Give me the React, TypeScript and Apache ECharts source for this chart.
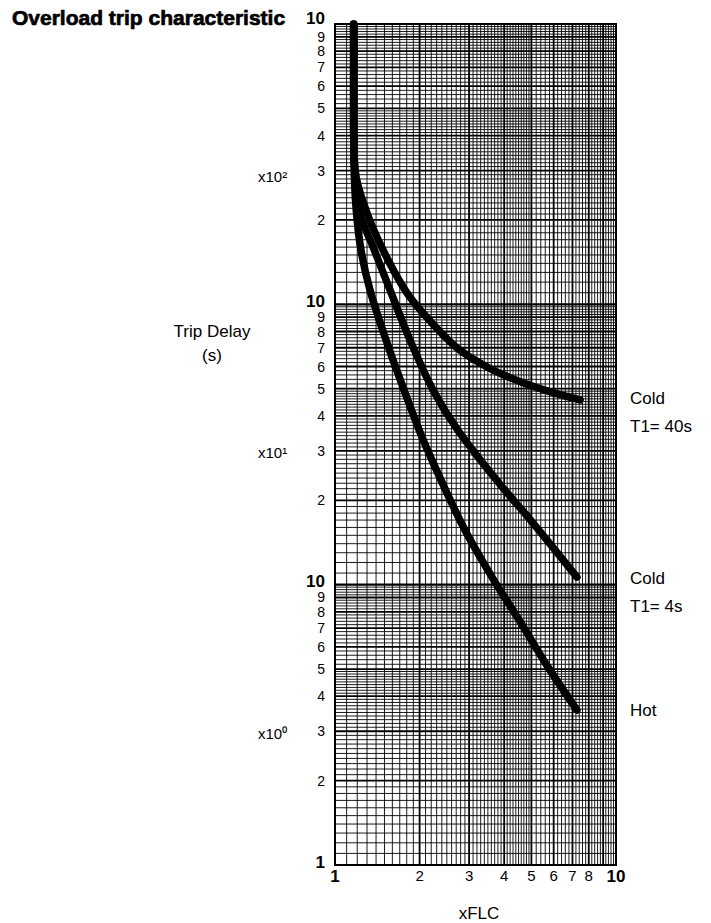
import React, { useEffect, useRef } from 'react';
import * as echarts from 'echarts';

const FONT = '"Liberation Sans", Arial, Helvetica, sans-serif';

// ---- curve data (xFLC, trip delay in s) ----
const cold40X = [1.165, 1.165, 1.18, 1.289, 1.482, 1.775, 2.057, 2.696, 3.532, 4.667, 6.02, 7.45];
const cold40Y = [1000, 450, 300, 216.8, 156.3, 112.5, 93.1, 70.4, 59.3, 52.5, 48.3, 45.6];
const cold4X = [1.165, 1.165, 1.175, 1.215, 1.38, 1.569, 1.849, 2.233, 2.735, 3.837, 4.966, 7.26];
const cold4Y = [1000, 450, 300, 216.8, 156.3, 112.5, 74.6, 49.5, 35.6, 23.0, 17.0, 10.64];
const hotX = [1.165, 1.165, 1.17, 1.19, 1.237, 1.332, 1.519, 1.76, 2.04, 2.384, 2.9, 3.62, 4.52, 5.73, 7.26];
const hotY = [1000, 450, 300, 216.8, 156.3, 112.5, 74.6, 49.5, 33.6, 23.6, 15.66, 10.64, 7.48, 5.08, 3.57];

// ---- axis tick labels ----
const xTickValues = [1, 2, 3, 4, 5, 6, 7, 8, 9, 10];
const yTickValues = [
  1, 2, 3, 4, 5, 6, 7, 8, 9,
  10, 20, 30, 40, 50, 60, 70, 80, 90,
  100, 200, 300, 400, 500, 600, 700, 800, 900, 1000,
];
const yDecades = [1, 10, 100];

// ---- log-paper ruling (mantissas within a decade) ----
const integerMantissas = [2, 3, 4, 5, 6, 7, 8, 9];
const fineMantissas: number[] = [];
for (let i = 11; i < 50; i++) if (i % 10 !== 0) fineMantissas.push(i / 10);
for (let i = 52; i < 100; i += 2) if (i % 10 !== 0) fineMantissas.push(i / 10);

const X_MIN = 1, X_MAX = 10, Y_MIN = 1, Y_MAX = 1000;

export default function App() {
  const ref = useRef<HTMLDivElement>(null);
  useEffect(() => {
    document.body.style.margin = '0';
    const chart = echarts.init(ref.current!, null, { renderer: 'svg' });
    const zip = (xs: number[], ys: number[]) => xs.map((x, i) => [x, ys[i]]);

    const vData: number[][] = [];
    fineMantissas.forEach((m) => vData.push([m, Y_MIN, 0.9]));
    integerMantissas.forEach((m) => vData.push([m, Y_MIN, 1.8]));

    const hData: number[][] = [];
    yDecades.forEach((d) => {
      fineMantissas.forEach((m) => hData.push([X_MIN, m * d, 0.9]));
      integerMantissas.forEach((m) => hData.push([X_MIN, m * d, 1.8]));
      if (d > 1) hData.push([X_MIN, d, 2.4]);
    });

    const lineSeries = (name: string, xs: number[], ys: number[]) => ({
      name,
      type: 'line',
      data: zip(xs, ys),
      smooth: 0.35,
      symbol: 'none',
      z: 5,
      silent: true,
      lineStyle: { color: '#000', width: 7.5, cap: 'round', join: 'round' },
    });

    const txt = (text: string, x: number, y: number, extra: any = {}) => ({
      type: 'text',
      x,
      y,
      silent: true,
      style: {
        text,
        fontFamily: FONT,
        fontSize: 17,
        fill: '#000',
        verticalAlign: 'middle',
        align: 'left',
        ...extra,
      },
    });

    const yLabelFormatter = (v: number) => {
      const e = Math.floor(Math.log10(v) + 1e-9);
      const m = Math.round(v / Math.pow(10, e));
      if (m === 1) return v < 1.5 ? '{b|1}\n{sp| }' : '{b|10}\n{sp| }';
      return String(m);
    };
    const yRich = {
      b: { fontWeight: 'bold', fontSize: 17, lineHeight: 8, fontFamily: FONT, color: '#000' },
      sp: { fontSize: 2, lineHeight: 6 },
      sp2: { fontSize: 2, lineHeight: 12 },
    };
    const yAxisBase = {
      type: 'log',
      logBase: 10,
      min: Y_MIN,
      max: Y_MAX,
      position: 'left',
      axisTick: { show: false },
      splitLine: { show: false },
      minorTick: { show: false },
      minorSplitLine: { show: false },
    };

    chart.setOption({
      animation: false,
      backgroundColor: '#fff',
      grid: {
        left: 335,
        top: 24,
        right: 95,
        bottom: 58,
        show: true,
        borderColor: '#000',
        borderWidth: 2,
        backgroundColor: 'transparent',
        containLabel: false,
        outerBoundsMode: 'none',
      },
      xAxis: {
        type: 'log',
        logBase: 10,
        min: X_MIN,
        max: X_MAX,
        axisLine: { show: true, lineStyle: { color: '#000', width: 2 } },
        axisTick: { show: false },
        splitLine: { show: false },
        minorTick: { show: false },
        minorSplitLine: { show: false },
        axisLabel: {
          customValues: xTickValues,
          interval: 0,
          hideOverlap: false,
          showMinLabel: true,
          showMaxLabel: true,
          margin: 3,
          fontSize: 15,
          fontFamily: FONT,
          color: '#000',
          formatter: (v: number) => {
            const r = Math.round(v);
            return r === 1 || r === 10 ? `{b|${r}}` : String(r);
          },
          rich: { b: { fontWeight: 'bold', fontSize: 17, fontFamily: FONT, color: '#000' } },
        },
      },
      yAxis: [
        {
          ...yAxisBase,
          axisLine: { show: true, lineStyle: { color: '#000', width: 2 } },
          axisLabel: {
            customValues: yTickValues.filter((v) => v < Y_MAX),
            interval: 0,
            hideOverlap: false,
            showMinLabel: true,
            showMaxLabel: true,
            margin: 10,
            fontSize: 14,
            lineHeight: 10,
            fontFamily: FONT,
            color: '#000',
            formatter: yLabelFormatter,
            rich: yRich,
          },
        },
        {
          ...yAxisBase,
          axisLine: { show: false },
          axisLabel: {
            customValues: yTickValues.filter((v) => v >= Y_MAX),
            interval: 0,
            showMinLabel: true,
            showMaxLabel: true,
            margin: 10,
            fontSize: 14,
            lineHeight: 10,
            fontFamily: FONT,
            color: '#000',
            formatter: () => '{b|10}\n{sp2| }',
            rich: yRich,
          },
        },
      ],
      graphic: [
        txt('Overload trip characteristic', 12, 17, {
          fontSize: 21,
          fontWeight: 'bold',
          stroke: '#000',
          lineWidth: 0.7,
        }),
        txt('Trip Delay', 212, 331, { align: 'center' }),
        txt('(s)', 212, 355, { align: 'center' }),
        txt('x10²', 258, 176, { fontSize: 15 }),
        txt('x10¹', 258, 452, { fontSize: 15 }),
        txt('x10⁰', 258, 733, { fontSize: 15 }),
        txt('xFLC', 479, 913, { align: 'center' }),
        txt('Cold', 630, 398),
        txt('T1= 40s', 630, 426),
        txt('Cold', 630, 578),
        txt('T1= 4s', 630, 606),
        txt('Hot', 630, 710),
      ],
      series: [
        {
          type: 'custom',
          name: 'vgrid',
          data: vData,
          encode: { x: 0, y: 1 },
          silent: true,
          z: 1,
          clip: false,
          renderItem: (params: any, api: any) => {
            const v = api.value(0);
            const w = api.value(2);
            const a = api.coord([v, Y_MIN]);
            const b = api.coord([v, Y_MAX]);
            return {
              type: 'line',
              shape: { x1: a[0], y1: a[1], x2: b[0], y2: b[1] },
              style: { stroke: '#000', lineWidth: w },
            };
          },
        },
        {
          type: 'custom',
          name: 'hgrid',
          data: hData,
          encode: { x: 0, y: 1 },
          silent: true,
          z: 1,
          clip: false,
          renderItem: (params: any, api: any) => {
            const v = api.value(1);
            const w = api.value(2);
            const a = api.coord([X_MIN, v]);
            const b = api.coord([X_MAX, v]);
            return {
              type: 'line',
              shape: { x1: a[0], y1: a[1], x2: b[0], y2: b[1] },
              style: { stroke: '#000', lineWidth: w },
            };
          },
        },
        lineSeries('Cold T1=40s', cold40X, cold40Y),
        lineSeries('Cold T1=4s', cold4X, cold4Y),
        lineSeries('Hot', hotX, hotY),
      ],
    });
    return () => chart.dispose();
  }, []);
  return <div ref={ref} style={{ width: 711, height: 923 }} />;
}
